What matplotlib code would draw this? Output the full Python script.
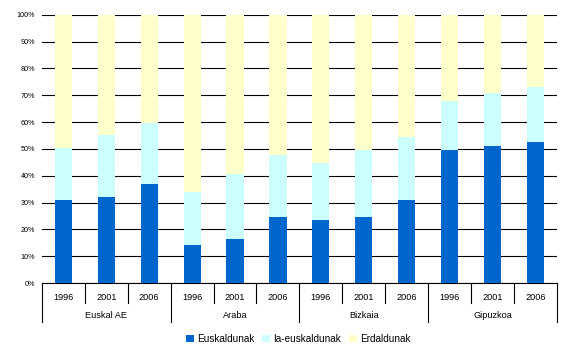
import matplotlib.pyplot as plt
import matplotlib.transforms as mtransforms
import numpy as np

groups = ["Euskal AE", "Araba", "Bizkaia", "Gipuzkoa"]
years = ["1996", "2001", "2006"]
euskaldunak = [30.9, 32.2, 37.0, 14.2, 16.3, 24.7, 23.6, 24.6, 31.0, 49.6, 51.0, 52.6]
ia_euskaldunak = [19.6, 23.0, 22.6, 19.9, 24.5, 23.1, 21.2, 25.0, 23.3, 18.2, 19.9, 20.5]
erdaldunak = [100 - a - b for a, b in zip(euskaldunak, ia_euskaldunak)]

c_eus = "#0066CC"
c_ia = "#CCFFFF"
c_erd = "#FFFFCC"

plt.rcParams['font.family'] = ['Liberation Sans', 'DejaVu Sans']

fig = plt.figure(figsize=(5.67, 3.53), dpi=100)
ax = fig.add_axes([0.074, 0.198, 0.908, 0.76])

x = np.arange(len(euskaldunak))
w = 0.4
bottom2 = np.array(euskaldunak)
bottom3 = bottom2 + np.array(ia_euskaldunak)
ax.bar(x, euskaldunak, w, color=c_eus, label="Euskaldunak", zorder=3)
ax.bar(x, ia_euskaldunak, w, bottom=bottom2, color=c_ia, label="Ia-euskaldunak", zorder=3)
ax.bar(x, erdaldunak, w, bottom=bottom3, color=c_erd, label="Erdaldunak", zorder=3)

ax.set_xlim(-0.5, len(x) - 0.5)
ax.set_ylim(0, 100)
ax.set_yticks(range(0, 101, 10))
ax.set_yticklabels([f"{v}%" for v in range(0, 101, 10)], fontsize=5.2)
ax.tick_params(axis='y', length=0, pad=5)
ax.set_xticks([])
ax.yaxis.grid(True, color='black', linewidth=0.8, zorder=0)
ax.set_axisbelow(True)
for s in ['left', 'right', 'top']:
    ax.spines[s].set_visible(False)
ax.spines['bottom'].set_linewidth(0.8)

# two-level category axis
trans = mtransforms.blended_transform_factory(ax.transData, ax.transAxes)
for i in range(len(x) + 1):
    b = i - 0.5
    depth = -0.146 if i % 3 == 0 else -0.075
    ax.plot([b, b], [0, depth], color='black', lw=0.8, transform=trans, clip_on=False)
for i in x:
    ax.text(i, -0.052, years[i % 3], transform=trans, ha='center', va='center', fontsize=6.6)
for g, name in enumerate(groups):
    ax.text(g * 3 + 1, -0.12, name, transform=trans, ha='center', va='center', fontsize=6.6)

fig.legend(loc='center', bbox_to_anchor=(0.526, 0.04), ncol=3, frameon=False,
           fontsize=7.2, handlelength=0.8, handleheight=0.8, handletextpad=0.3,
           columnspacing=0.8)

fig.savefig("out.png", dpi=100)
